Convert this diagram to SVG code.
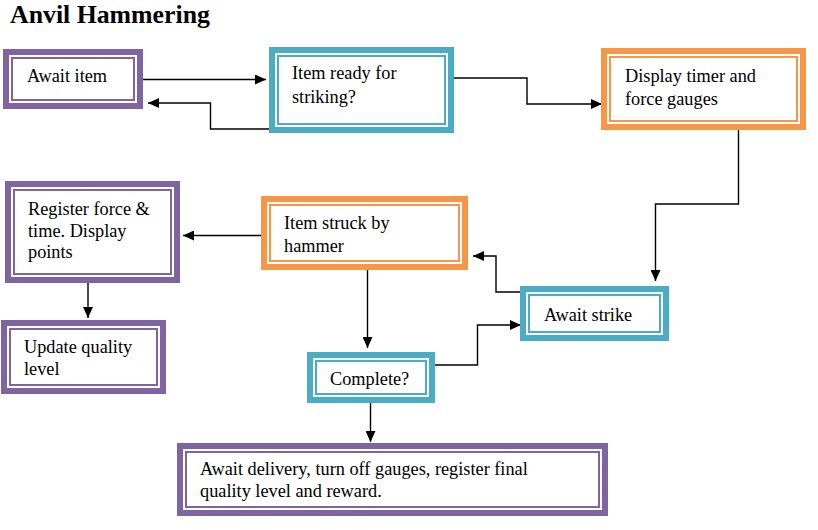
<svg xmlns="http://www.w3.org/2000/svg" width="818" height="530" viewBox="0 0 818 530">
<style>
.o{fill:#fff;stroke-width:6}
.i{fill:none;stroke-width:2}
.p{stroke:#8064A2}
.t{stroke:#4BACC6}
.r{stroke:#F79646}
text{font-family:"Liberation Serif","Times New Roman",serif;font-size:18.3px;fill:#000}
.title{font-size:25.8px;font-weight:bold}
.c{fill:none;stroke:#000;stroke-width:1.4}
</style>
<defs>
<marker id="ah" markerUnits="userSpaceOnUse" markerWidth="12" markerHeight="10" refX="11" refY="5" orient="auto">
<path d="M0,0 L11,5 L0,10 Z" fill="#000"/>
</marker>
</defs>
<rect width="818" height="530" fill="#fff"/>
<text class="title" x="10" y="23">Anvil Hammering</text>

<g id="connectors">
<path class="c" d="M143,79.5 H266" marker-end="url(#ah)"/>
<path class="c" d="M269,129 H210.5 V103 H148" marker-end="url(#ah)"/>
<path class="c" d="M454,78 H527 V104 H602" marker-end="url(#ah)"/>
<path class="c" d="M738.5,130 V204 H655.5 V281" marker-end="url(#ah)"/>
<path class="c" d="M520,292 H496 V256 H473" marker-end="url(#ah)"/>
<path class="c" d="M261,235.5 H183" marker-end="url(#ah)"/>
<path class="c" d="M88,283 V318" marker-end="url(#ah)"/>
<path class="c" d="M367.5,270 V348" marker-end="url(#ah)"/>
<path class="c" d="M435,365 H477.5 V325 H521" marker-end="url(#ah)"/>
<path class="c" d="M370.5,403 V442" marker-end="url(#ah)"/>
</g>

<g id="await-item">
<rect class="o p" x="6" y="52" width="134" height="54"/>
<rect class="i p" x="12" y="58" width="122" height="42"/>
<text x="27" y="82">Await item</text>
</g>

<g id="item-ready">
<rect class="o t" x="272" y="50" width="179" height="80"/>
<rect class="i t" x="278" y="56" width="167" height="68"/>
<text x="292" y="79">Item ready for</text>
<text x="292" y="103">striking?</text>
</g>

<g id="display-timer">
<rect class="o r" x="604" y="51" width="199" height="76"/>
<rect class="i r" x="610" y="57" width="187" height="64"/>
<text x="625" y="82">Display timer and</text>
<text x="625" y="105">force gauges</text>
</g>

<g id="register-force">
<rect class="o p" x="8" y="184" width="169" height="96"/>
<rect class="i p" x="14" y="190" width="157" height="84"/>
<text x="28" y="215">Register force &amp;</text>
<text x="28" y="237">time. Display</text>
<text x="28" y="258">points</text>
</g>

<g id="item-struck">
<rect class="o r" x="264" y="199" width="201" height="68"/>
<rect class="i r" x="270" y="205" width="189" height="56"/>
<text x="284" y="229">Item struck by</text>
<text x="284" y="252">hammer</text>
</g>

<g id="await-strike">
<rect class="o t" x="523" y="289" width="143" height="49"/>
<rect class="i t" x="529" y="295" width="131" height="37"/>
<text x="544" y="321">Await strike</text>
</g>

<g id="update-quality">
<rect class="o p" x="4" y="323" width="159" height="68"/>
<rect class="i p" x="10" y="329" width="147" height="56"/>
<text x="24" y="353">Update quality</text>
<text x="24" y="375">level</text>
</g>

<g id="complete">
<rect class="o t" x="310" y="355" width="122" height="45"/>
<rect class="i t" x="316" y="361" width="110" height="33"/>
<text x="330" y="385">Complete?</text>
</g>

<g id="await-delivery">
<rect class="o p" x="180" y="446" width="425" height="67"/>
<rect class="i p" x="186" y="452" width="413" height="55"/>
<text x="200" y="475">Await delivery, turn off gauges, register final</text>
<text x="200" y="497">quality level and reward.</text>
</g>
</svg>
